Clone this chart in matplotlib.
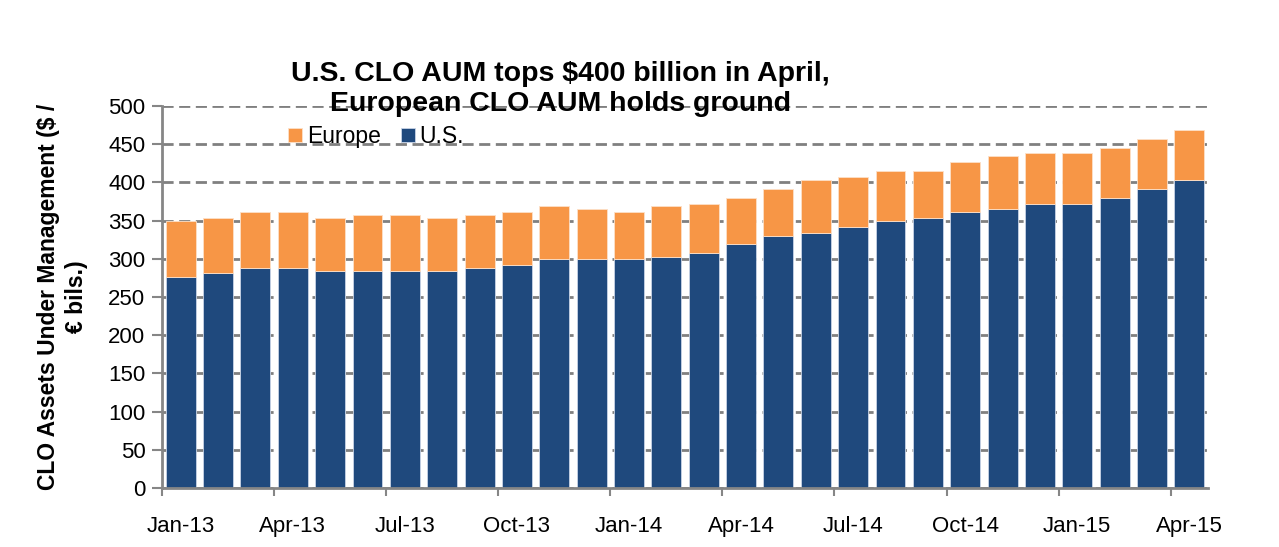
import numpy as np
import matplotlib.pyplot as plt

plt.rcParams['font.family'] = ['Liberation Sans', 'DejaVu Sans']

# monthly data, Jan-13 .. Apr-15
months = ['Jan-13', 'Feb-13', 'Mar-13', 'Apr-13', 'May-13', 'Jun-13', 'Jul-13',
          'Aug-13', 'Sep-13', 'Oct-13', 'Nov-13', 'Dec-13', 'Jan-14', 'Feb-14',
          'Mar-14', 'Apr-14', 'May-14', 'Jun-14', 'Jul-14', 'Aug-14', 'Sep-14',
          'Oct-14', 'Nov-14', 'Dec-14', 'Jan-15', 'Feb-15', 'Mar-15', 'Apr-15']
us = [276, 281, 288, 288, 284, 284, 284, 284, 288, 292, 300, 300, 300, 303,
      307, 319, 330, 334, 342, 350, 353, 361, 365, 372, 372, 380, 391, 403]
europe = [73, 72, 73, 73, 69, 73, 73, 69, 69, 69, 69, 65, 61, 66,
          65, 61, 61, 69, 65, 65, 62, 66, 69, 66, 66, 65, 66, 66]

us_color = '#1f497d'
eu_color = '#f79646'

fig = plt.figure(figsize=(12.79, 5.47), dpi=100)
ax = fig.add_axes([0.1267, 0.1079, 0.8178, 0.6983])

x = np.arange(len(months))
ax.bar(x, us, width=0.8, color=us_color, edgecolor='#c8d4e6', linewidth=0.6,
       label='U.S.', zorder=2)
ax.bar(x, europe, width=0.8, bottom=us, color=eu_color, edgecolor='#fde0c8',
       linewidth=0.6, label='Europe', zorder=2)

ax.set_xlim(-0.5, len(months) - 0.5)
ax.set_ylim(0, 500)
ax.set_yticks(np.arange(0, 501, 50))

# labels every 3 months, tick marks between categories
ax.set_xticks(x[::3])
ax.set_xticklabels(months[::3])
ax.set_xticks(np.arange(-0.5, len(months) - 1, 3), minor=True)
ax.tick_params(axis='x', which='major', length=0, pad=20, labelsize=16)
ax.tick_params(axis='x', which='minor', length=6, width=1.5, color='#868686')
ax.tick_params(axis='y', length=7, width=1.5, color='#868686', labelsize=16, pad=5)

ax.yaxis.grid(True, color='#808080', linestyle=(0, (4, 2)), linewidth=2, zorder=0)
ax.set_axisbelow(True)

for side in ['top', 'right']:
    ax.spines[side].set_visible(False)
for side in ['left', 'bottom']:
    ax.spines[side].set_color('#868686')
    ax.spines[side].set_linewidth(2)
    ax.spines[side].set_zorder(3)

ax.set_ylabel('CLO Assets Under Management ($ /\n€ bils.)', fontsize=16.5,
              fontweight='bold', linespacing=1.25)
ax.yaxis.set_label_coords(-0.071, 0.5)

handles, labels = ax.get_legend_handles_labels()
ax.legend(handles[::-1], labels[::-1], loc='center left', bbox_to_anchor=(0.112, 0.92),
          frameon=False, fontsize=16.5, ncol=2, handlelength=0.6, handleheight=0.6,
          handletextpad=0.2, columnspacing=0.9, borderaxespad=0)

fig.text(560 / 1279, 0.837, 'U.S. CLO AUM tops $400 billion in April,\nEuropean CLO AUM holds ground',
         ha='center', va='center', fontsize=20.5, fontweight='bold', linespacing=1.2)

fig.savefig('out.png', dpi=100)
